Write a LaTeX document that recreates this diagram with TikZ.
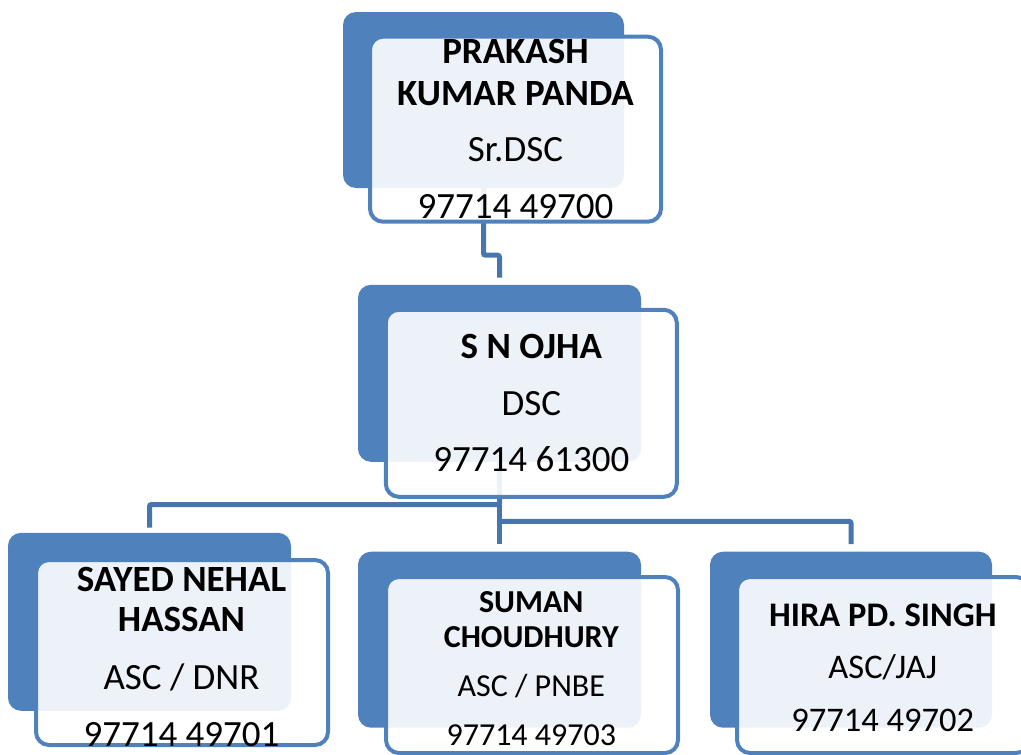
\documentclass[tikz,border=0pt]{standalone}
\usepackage{fontspec}
\setmainfont{Carlito}
\usetikzlibrary{positioning,calc}

\definecolor{boxblue}{RGB}{79,129,189}
\definecolor{linkblue}{RGB}{71,117,174}

\tikzset{
  backbox/.style={fill=boxblue, rounded corners=13pt, inner sep=0pt},
  frontbox/.style={draw=boxblue, line width=4pt, fill=white, fill opacity=0.9,
    rounded corners=13pt, inner sep=0pt},
  link/.style={draw=linkblue, line width=5pt},
  pname/.style={anchor=base, font=\bfseries\fontsize{37}{40}\selectfont},
  pinfo/.style={anchor=base, font=\fontsize{37}{40}\selectfont},
}

\begin{document}
\begin{tikzpicture}[x=1pt, y=-1pt]
  \useasboundingbox (0,0) rectangle (1021,755);
  \clip (0,0) rectangle (1021,755);

  % back boxes
  \node[backbox, minimum width=281pt, minimum height=176pt] (pkp-back) at (483.5,100) {};
  \node[backbox, minimum width=283pt, minimum height=177pt] (sno-back) at (499.5,373.3) {};
  \node[backbox, minimum width=283pt, minimum height=178pt] (snh-back) at (149.5,621.8) {};
  \node[backbox, minimum width=283pt, minimum height=176pt] (sc-back) at (499.5,639.7) {};
  \node[backbox, minimum width=282pt, minimum height=176pt] (hps-back) at (851,639.7) {};

  % connectors
  \draw[link, rounded corners=2pt, shorten >=7pt] (pkp-back.south) -- ++(0,67) -| (sno-back.north);
  \draw[link, rounded corners=2pt, shorten >=5pt] (sno-back.south) -- ++(0,42.5) -| (snh-back.north);
  \draw[link, shorten >=7.5pt] (sno-back.south) -- (sc-back.north);
  \draw[link, rounded corners=2pt, shorten >=7.5pt] (sno-back.south) ++(0,59.3) -| (hps-back.north);

  % front boxes
  \node[frontbox, minimum width=291pt, minimum height=185pt] (pkp-front) at (515.5,129.2) {};
  \node[frontbox, minimum width=291pt, minimum height=187pt] (sno-front) at (531.3,403.3) {};
  \node[frontbox, minimum width=292pt, minimum height=185pt] (snh-front) at (182,652.5) {};
  \node[frontbox, minimum width=292pt, minimum height=176pt] (sc-front) at (532,665) {};
  \node[frontbox, minimum width=292pt, minimum height=176pt] (hps-front) at (883,665) {};

  % texts
  \node[pname] (pkp-n1) at (515.5,63) {PRAKASH};
  \node[pname] (pkp-n2) at (515.5,105) {KUMAR PANDA};
  \node[pinfo] (pkp-t) at (515.5,161.7) {Sr.DSC};
  \node[pinfo] (pkp-p) at (515.5,218) {97714 49700};

  \node[pname] (sno-n) at (531.3,358) {S N OJHA};
  \node[pinfo] (sno-t) at (531.3,415) {DSC};
  \node[pinfo] (sno-p) at (531.3,471.7) {97714 61300};

  \node[pname] (snh-n1) at (181.5,591.7) {SAYED NEHAL};
  \node[pname] (snh-n2) at (181.5,631.7) {HASSAN};
  \node[pinfo] (snh-t) at (181.5,689) {ASC / DNR};
  \node[pinfo] (snh-p) at (181.5,746.7) {97714 49701};

  \node[pname, font=\bfseries\fontsize{32}{34}\selectfont] (sc-n1) at (531.3,612.7) {SUMAN};
  \node[pname, font=\bfseries\fontsize{32}{34}\selectfont] (sc-n2) at (531.3,647.7) {CHOUDHURY};
  \node[pinfo, font=\fontsize{32}{34}\selectfont] (sc-t) at (531.3,696.7) {ASC / PNBE};
  \node[pinfo, font=\fontsize{32}{34}\selectfont] (sc-p) at (531.3,745) {97714 49703};

  \node[pname, font=\bfseries\fontsize{34.5}{36}\selectfont] (hps-n) at (882.8,626.7) {HIRA PD. SINGH};
  \node[pinfo, font=\fontsize{34.5}{36}\selectfont] (hps-t) at (882.8,678) {ASC/JAJ};
  \node[pinfo, font=\fontsize{34.5}{36}\selectfont] (hps-p) at (882.8,731.7) {97714 49702};
\end{tikzpicture}
\end{document}
